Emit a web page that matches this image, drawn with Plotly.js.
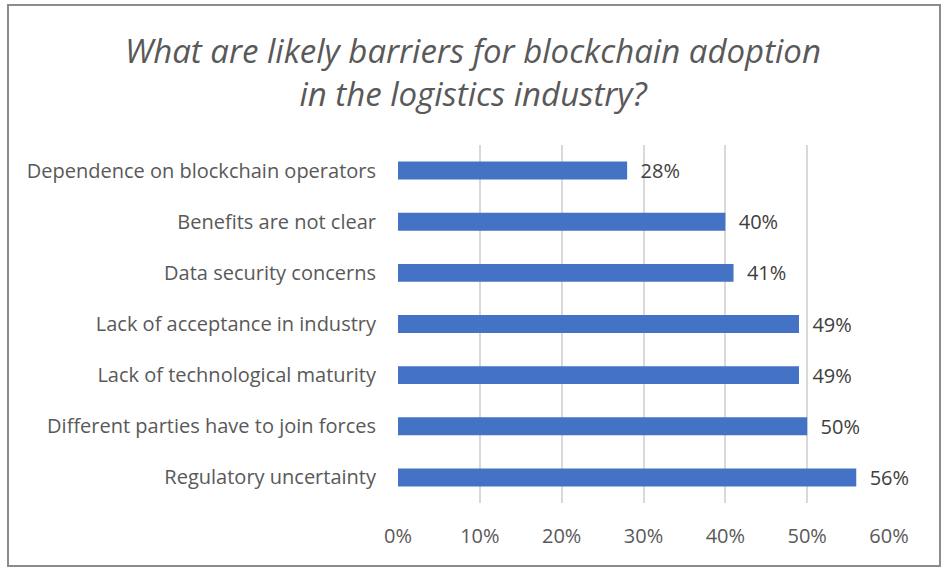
<!DOCTYPE html>
<html>
<head>
<meta charset="utf-8">
<script src="https://cdn.plot.ly/plotly-3.0.1.min.js"></script>
<style>
  body { margin: 0; background: #fff; }
  #chart { width: 946px; height: 572px; }
  #frame { position: absolute; left: 7px; top: 4px; width: 930px; height: 559px;
           border: 2px solid #8c8c8c; pointer-events: none; }
</style>
</head>
<body>
<div id="chart"></div>
<div id="frame"></div>
<script>
// DATA (top to bottom as shown)
var barriers = [
  'Dependence on blockchain operators',
  'Benefits are not clear',
  'Data security concerns',
  'Lack of acceptance in industry',
  'Lack of technological maturity',
  'Different parties have to join forces',
  'Regulatory uncertainty'
];
var shares = [28, 40, 41, 49, 49, 50, 56];
var tickVals = [0, 10, 20, 30, 40, 50, 60];
var tickText = ['0%', '10%', '20%', '30%', '40%', '50%', '60%'];

var grey = '#595959';
var font = '"Open Sans", Lato, sans-serif';

var trace = {
  type: 'bar',
  orientation: 'h',
  y: barriers,
  x: shares,
  text: shares.map(function(v){ return '  ' + v + '%'; }),
  textposition: 'outside',
  constraintext: 'none',
  cliponaxis: false,
  textfont: {family: font, size: 20, color: '#404040'},
  marker: {color: '#4472C4'},
  hoverinfo: 'none'
};

var layout = {
  width: 946, height: 572,
  margin: {l: 398, r: 57, t: 145, b: 69},
  paper_bgcolor: '#fff', plot_bgcolor: '#fff',
  showlegend: false,
  bargap: 0.65,
  title: {
    text: 'What are likely barriers for blockchain adoption<br>in the logistics industry?',
    font: {family: font, size: 33, color: grey, style: 'italic'},
    x: 0.5, xanchor: 'center', y: 0.89, yanchor: 'top'
  },
  xaxis: {
    range: [0, 60],
    tickvals: tickVals, ticktext: tickText,
    showgrid: true, gridcolor: '#d9d9d9', gridwidth: 2,
    zeroline: false, showline: false,
    ticklabelstandoff: 19,
    tickfont: {family: font, size: 20, color: grey},
    fixedrange: true
  },
  yaxis: {
    autorange: 'reversed',
    showgrid: false, zeroline: false, showline: false,
    ticklabelstandoff: 21,
    tickfont: {family: font, size: 20, color: grey},
    fixedrange: true
  }
};

Plotly.newPlot('chart', [trace], layout, {displayModeBar: false, staticPlot: true});
</script>
</body>
</html>
